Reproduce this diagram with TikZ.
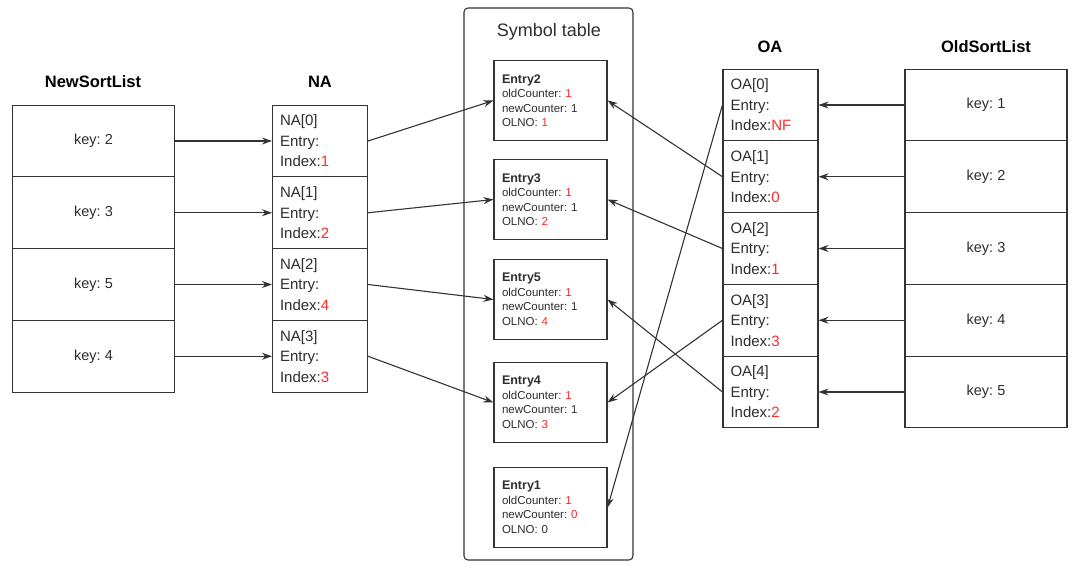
\documentclass[tikz,border=0pt]{standalone}
\usepackage{fontspec}
\setmainfont{Liberation Sans}
\usetikzlibrary{arrows.meta}
\definecolor{linec}{HTML}{333333}
\definecolor{txt}{HTML}{2E2E2E}
\definecolor{hired}{HTML}{FF2A2A}
\newcommand{\rd}[1]{\textcolor{hired}{#1}}
\frenchspacing
\tikzset{
  cell/.style={draw=linec, line width=1.1pt, inner sep=0pt, text=txt, fill=white},
  keycell/.style={cell, minimum width=162pt, minimum height=71.75pt, font=\fontsize{14.5}{20}\selectfont},
  arrcell/.style={cell, minimum width=95pt, minimum height=71.75pt, text width=80pt, align=left, font=\fontsize{15}{20.5}\selectfont},
  entry/.style={cell, minimum width=113pt, minimum height=80pt, text width=97pt, align=left, font=\fontsize{11.5}{14.5}\selectfont},
  etitle/.style={},
  title/.style={text=black, font=\fontsize{16.5}{18}\selectfont\bfseries},
  conn/.style={draw=linec, line width=1.1pt, -{Stealth[length=10pt,width=7pt]}}
}
\newcommand{\ent}[1]{{\fontsize{12.5}{14.5}\selectfont\bfseries #1}}
\begin{document}
\begin{tikzpicture}[x=1pt,y=-1pt]
\useasboundingbox (0,0) rectangle (1080,565);
% symbol table container
\node[draw=linec, line width=1.1pt, rounded corners=4pt, minimum width=169pt, minimum height=552pt, inner sep=0pt] (st) at (548.5,284) {};
\node[text=txt, font=\fontsize{18}{20}\selectfont] (sttitle) at (549,32) {Symbol table};

% titles
\node[title] (tns) at (93,82) {NewSortList};
\node[title] (tna) at (320,82) {NA};
\node[title] (toa) at (770,47) {OA};
\node[title] (tos) at (986,47) {OldSortList};

% NewSortList
\node[keycell] (ns0) at (93.5,141) {key: 2};
\node[keycell] (ns1) at (93.5,212.75) {key: 3};
\node[keycell] (ns2) at (93.5,284.5) {key: 5};
\node[keycell] (ns3) at (93.5,356.25) {key: 4};

% NA
\node[arrcell] (na0) at (320,141) {NA[0]\\Entry:\\Index:\rd{1}};
\node[arrcell] (na1) at (320,212.75) {NA[1]\\Entry:\\Index:\rd{2}};
\node[arrcell] (na2) at (320,284.5) {NA[2]\\Entry:\\Index:\rd{4}};
\node[arrcell] (na3) at (320,356.25) {NA[3]\\Entry:\\Index:\rd{3}};

% OA
\node[arrcell] (oa0) at (770.5,105) {OA[0]\\Entry:\\Index:\rd{NF}};
\node[arrcell] (oa1) at (770.5,176.75) {OA[1]\\Entry:\\Index:\rd{0}};
\node[arrcell] (oa2) at (770.5,248.5) {OA[2]\\Entry:\\Index:\rd{1}};
\node[arrcell] (oa3) at (770.5,320.25) {OA[3]\\Entry:\\Index:\rd{3}};
\node[arrcell] (oa4) at (770.5,392) {OA[4]\\Entry:\\Index:\rd{2}};

% OldSortList
\node[keycell] (os0) at (986,105) {key: 1};
\node[keycell] (os1) at (986,176.75) {key: 2};
\node[keycell] (os2) at (986,248.5) {key: 3};
\node[keycell] (os3) at (986,320.25) {key: 4};
\node[keycell] (os4) at (986,392) {key: 5};

% entries
\node[entry] (e2) at (550.5,100.5) {\ent{Entry2}\\oldCounter: \rd{1}\\newCounter: 1\\OLNO: \rd{1}};
\node[entry] (e3) at (550.5,199.5) {\ent{Entry3}\\oldCounter: \rd{1}\\newCounter: 1\\OLNO: \rd{2}};
\node[entry] (e5) at (550.5,299.5) {\ent{Entry5}\\oldCounter: \rd{1}\\newCounter: 1\\OLNO: \rd{4}};
\node[entry] (e4) at (550.5,402.5) {\ent{Entry4}\\oldCounter: \rd{1}\\newCounter: 1\\OLNO: \rd{3}};
\node[entry] (e1) at (550.5,507.5) {\ent{Entry1}\\oldCounter: \rd{1}\\newCounter: \rd{0}\\OLNO: 0};

% connectors NewSortList -> NA
\draw[conn] (ns0.east) -- (na0.west);
\draw[conn] (ns1.east) -- (na1.west);
\draw[conn] (ns2.east) -- (na2.west);
\draw[conn] (ns3.east) -- (na3.west);

% NA -> entries
\draw[conn] (na0.east) -- (e2.west);
\draw[conn] (na1.east) -- (e3.west);
\draw[conn] (na2.east) -- (e5.west);
\draw[conn] (na3.east) -- (e4.west);

% OldSortList -> OA
\draw[conn] (os0.west) -- (oa0.east);
\draw[conn] (os1.west) -- (oa1.east);
\draw[conn] (os2.west) -- (oa2.east);
\draw[conn] (os3.west) -- (oa3.east);
\draw[conn] (os4.west) -- (oa4.east);

% OA -> entries
\draw[conn] (oa0.west) -- (e1.east);
\draw[conn] (oa1.west) -- (e2.east);
\draw[conn] (oa2.west) -- (e3.east);
\draw[conn] (oa3.west) -- (e4.east);
\draw[conn] (oa4.west) -- (e5.east);
\end{tikzpicture}
\end{document}
